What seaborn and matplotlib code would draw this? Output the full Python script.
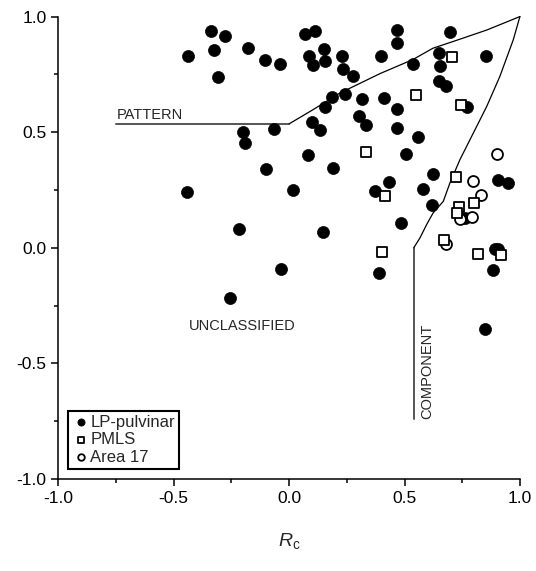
import pandas as pd
import numpy as np
import matplotlib.pyplot as plt
import matplotlib as mpl
import seaborn as sns
from matplotlib.ticker import MultipleLocator, FormatStrFormatter

sns.set_style('ticks')
plt.rcParams['font.family'] = ['Liberation Sans', 'DejaVu Sans']
plt.rcParams['mathtext.fontset'] = 'custom'
plt.rcParams['mathtext.rm'] = 'Liberation Sans'
plt.rcParams['mathtext.it'] = 'Liberation Sans:italic'
plt.rcParams['axes.unicode_minus'] = False

# values (Rc, Rp)
lp_rc = [-0.339, -0.278, -0.440, -0.324, -0.178, -0.104, -0.039, -0.308, -0.200, -0.191,
         -0.065, -0.102, -0.441, 0.016, -0.217, -0.036, -0.255,
         0.068, 0.110, 0.466, 0.466, 0.695, 0.086, 0.151, 0.102, 0.154, 0.229,
         0.398, 0.232, 0.276, 0.535, 0.650, 0.655, 0.851, 0.648, 0.681, 0.770,
         0.187, 0.242, 0.156, 0.317, 0.411, 0.466, 0.100, 0.133, 0.301, 0.334,
         0.468, 0.559, 0.080, 0.188, 0.506, 0.623, 0.432, 0.372, 0.578, 0.907,
         0.948, 0.617, 0.484, 0.145, 0.762, 0.891, 0.906, 0.883, 0.388, 0.847]
lp_rp = [0.938, 0.918, 0.831, 0.857, 0.863, 0.810, 0.794, 0.739, 0.499, 0.453,
         0.512, 0.342, 0.240, 0.249, 0.082, -0.091, -0.218,
         0.924, 0.938, 0.942, 0.887, 0.934, 0.830, 0.859, 0.791, 0.808, 0.830,
         0.831, 0.774, 0.744, 0.795, 0.844, 0.785, 0.830, 0.721, 0.699, 0.609,
         0.652, 0.663, 0.610, 0.643, 0.649, 0.600, 0.545, 0.509, 0.572, 0.532,
         0.518, 0.480, 0.400, 0.345, 0.407, 0.318, 0.285, 0.247, 0.253, 0.295,
         0.281, 0.184, 0.108, 0.067, 0.129, -0.004, -0.007, -0.097, -0.108, -0.350]

pmls_rc = [0.706, 0.551, 0.744, 0.333, 0.723, 0.416, 0.801, 0.736, 0.728, 0.669, 0.402, 0.817, 0.917]
pmls_rp = [0.827, 0.659, 0.617, 0.416, 0.308, 0.223, 0.194, 0.177, 0.151, 0.032, -0.017, -0.025, -0.033]

a17_rc = [0.900, 0.798, 0.832, 0.741, 0.793, 0.678]
a17_rp = [0.407, 0.287, 0.227, 0.126, 0.132, 0.017]

# classification boundaries
pattern_x = [0.0, 0.103, 0.220, 0.393, 0.536, 0.623, 0.710, 0.857, 1.0]
pattern_y = [0.536, 0.597, 0.669, 0.753, 0.814, 0.863, 0.892, 0.942, 1.0]
component_x = [0.54, 0.567, 0.596, 0.624, 0.668, 0.697, 0.740, 0.798, 0.856, 0.913, 0.971, 1.0]
component_y = [0.0, 0.043, 0.101, 0.151, 0.201, 0.281, 0.381, 0.496, 0.611, 0.741, 0.899, 1.0]

lp = pd.DataFrame({'Rc': lp_rc, 'Rp': lp_rp})
pmls = pd.DataFrame({'Rc': pmls_rc, 'Rp': pmls_rp})
a17 = pd.DataFrame({'Rc': a17_rc, 'Rp': a17_rp})

fig = plt.figure(figsize=(5.36, 5.71), dpi=100)
ax = fig.add_axes([0.1088, 0.161, 0.8612, 0.81])

ax.plot([-0.75, 0.0], [0.536, 0.536], color='#555555', lw=1.4, clip_on=False)
ax.plot(pattern_x, pattern_y, color='black', lw=0.9, clip_on=False)
ax.plot([0.54, 0.54], [0.0, -0.742], color='#555555', lw=1.4)
ax.plot(component_x, component_y, color='black', lw=0.9, clip_on=False)

sns.scatterplot(data=lp, x='Rc', y='Rp', marker='o', s=75, color='black',
                edgecolor='black', linewidth=0.5, label='LP-pulvinar', ax=ax, clip_on=False, zorder=3)
sns.scatterplot(data=a17, x='Rc', y='Rp', marker='o', s=62, facecolor='white',
                edgecolor='black', linewidth=1.3, label='Area 17', ax=ax, clip_on=False, zorder=4)
sns.scatterplot(data=pmls, x='Rc', y='Rp', marker='s', s=56, facecolor='white',
                edgecolor='black', linewidth=1.3, label='PMLS', ax=ax, clip_on=False, zorder=5)

ax.text(-0.747, 0.556, 'PATTERN', fontsize=10.5)
ax.text(-0.204, -0.337, 'UNCLASSIFIED', fontsize=10.5, ha='center', va='center')
ax.text(0.599, -0.742, 'COMPONENT', fontsize=10.5, rotation=90, ha='center', va='bottom')

ax.set_xlim(-1, 1)
ax.set_ylim(-1, 1)
ax.set_xticks([-1, -0.5, 0, 0.5, 1])
ax.set_yticks([-1, -0.5, 0, 0.5, 1])
ax.xaxis.set_minor_locator(MultipleLocator(0.25))
ax.yaxis.set_minor_locator(MultipleLocator(0.25))
ax.xaxis.set_major_formatter(FormatStrFormatter('%.1f'))
ax.yaxis.set_major_formatter(FormatStrFormatter('%.1f'))
ax.tick_params(which='major', direction='out', length=5, width=1.1, labelsize=12.5, color='black', labelcolor='black')
ax.tick_params(which='minor', direction='out', length=3, width=1.1, color='black')
sns.despine(ax=ax)
for sp in ['left', 'bottom']:
    ax.spines[sp].set_linewidth(1.1)
    ax.spines[sp].set_color('black')

ax.set_xlabel(r'$R_\mathrm{c}$', fontsize=14, labelpad=18)
ax.set_ylabel('')

h, l = ax.get_legend_handles_labels()
order = [l.index('LP-pulvinar'), l.index('PMLS'), l.index('Area 17')]
leg = ax.legend([h[i] for i in order], [l[i] for i in order], loc='lower left',
                bbox_to_anchor=(0.022, 0.022), fontsize=12, frameon=True, fancybox=False,
                edgecolor='black', framealpha=1, borderpad=0.25, handletextpad=0.05,
                labelspacing=0.15, handlelength=1.0, markerscale=0.6, borderaxespad=0)
leg.get_frame().set_linewidth(1.5)

plt.savefig('out.png', dpi=100)
